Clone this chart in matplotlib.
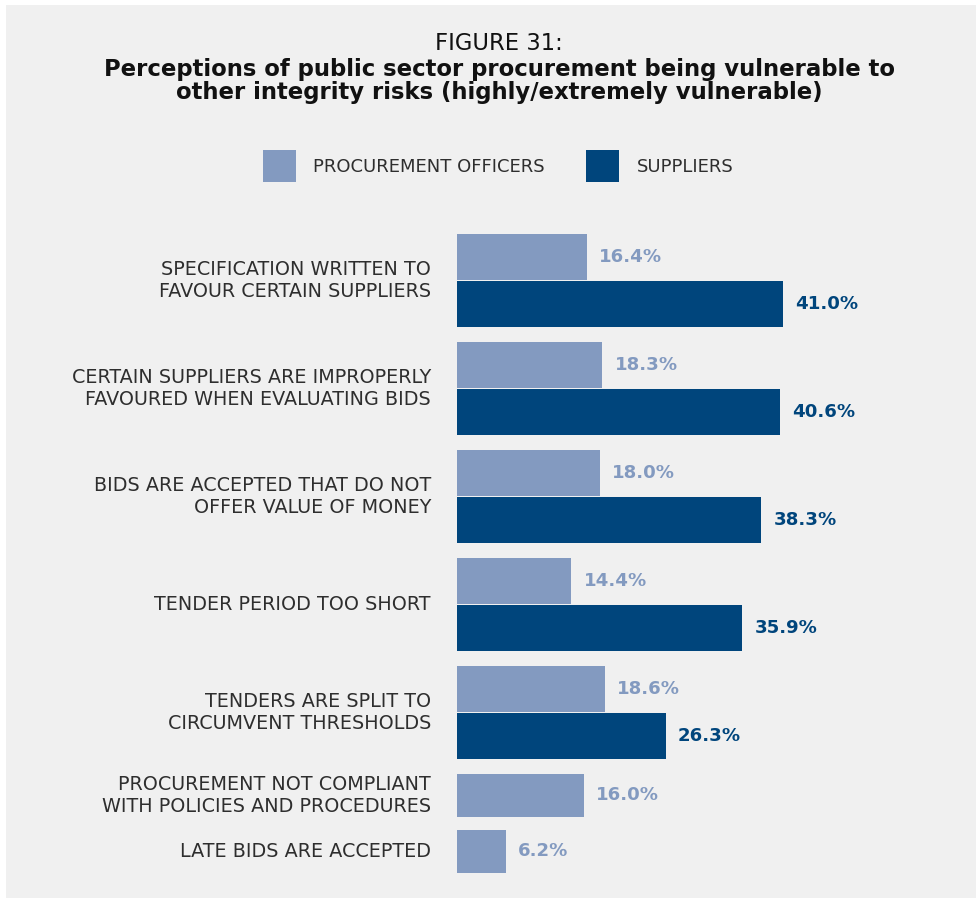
import matplotlib
matplotlib.use("Agg")
import matplotlib.pyplot as plt
from matplotlib.patches import Rectangle
from matplotlib.transforms import blended_transform_factory

# ---- data ----
categories = [
    "SPECIFICATION WRITTEN TO\nFAVOUR CERTAIN SUPPLIERS",
    "CERTAIN SUPPLIERS ARE IMPROPERLY\nFAVOURED WHEN EVALUATING BIDS",
    "BIDS ARE ACCEPTED THAT DO NOT\nOFFER VALUE OF MONEY",
    "TENDER PERIOD TOO SHORT",
    "TENDERS ARE SPLIT TO\nCIRCUMVENT THRESHOLDS",
    "PROCUREMENT NOT COMPLIANT\nWITH POLICIES AND PROCEDURES",
    "LATE BIDS ARE ACCEPTED",
]
officers = [16.4, 18.3, 18.0, 14.4, 18.6, 16.0, 6.2]
suppliers = [41.0, 40.6, 38.3, 35.9, 26.3, None, None]
series_names = ["PROCUREMENT OFFICERS", "SUPPLIERS"]

title_top = "FIGURE 31:"
title_main = ("Perceptions of public sector procurement being vulnerable to\n"
              "other integrity risks (highly/extremely vulnerable)")

# ---- style ----
FONT = "DejaVu Sans"
C_OFF = "#839ac0"
C_SUP = "#00457c"
C_TXT = "#2e2e2e"
BG = "#f0f0f0"

W, H = 976, 898
fig = plt.figure(figsize=(W / 100, H / 100), dpi=100, facecolor="white")
fig.patches.append(Rectangle((6 / W, 0), 1 - 6 / W, 1 - 5 / H,
                             transform=fig.transFigure, facecolor=BG,
                             edgecolor="none", zorder=-10))

plot_left = 457
ax = fig.add_axes([plot_left / W, 0, 1 - plot_left / W, 1])
ax.set_facecolor("none")
px_per_pct = 7.95
ax.set_xlim(0, (W - plot_left) / px_per_pct)
ax.set_ylim(H, 0)  # vertical layout in pixel rows, top to bottom
ax.axis("off")

label_tf = blended_transform_factory(fig.transFigure, ax.transData)
gap_pct = 12 / px_per_pct
VAL_SIZE = 13.1
CAT_SIZE = 13.8

row = 234
for i, cat in enumerate(categories):
    if suppliers[i] is not None:
        bh = 46
        y_off = row + bh / 2
        y_sup = row + bh + 1 + bh / 2
        center = row + bh + 0.5
        step = 108
    else:
        bh = 43
        y_off = row + bh / 2
        y_sup = None
        center = y_off
        step = 56

    ax.barh(y_off, officers[i], height=bh, color=C_OFF,
            label=series_names[0] if i == 0 else None)
    ax.text(officers[i] + gap_pct, y_off, f"{officers[i]:.1f}%",
            ha="left", va="center", color=C_OFF, fontsize=VAL_SIZE,
            fontweight="bold", family=FONT)
    if y_sup is not None:
        ax.barh(y_sup, suppliers[i], height=bh, color=C_SUP,
                label=series_names[1] if i == 0 else None)
        ax.text(suppliers[i] + gap_pct, y_sup, f"{suppliers[i]:.1f}%",
                ha="left", va="center", color=C_SUP, fontsize=VAL_SIZE,
                fontweight="bold", family=FONT)

    ax.text(431 / W, center, cat, transform=label_tf, ha="right",
            va="center", color=C_TXT, fontsize=CAT_SIZE, family=FONT,
            linespacing=1.22, clip_on=False)
    row += step

# ---- titles ----
fig.text(499 / W, 1 - 44 / H, title_top, ha="center", va="center",
         fontsize=16.3, family=FONT, color="#111111")
fig.text(499 / W, 1 - 81 / H, title_main, ha="center", va="center",
         fontsize=16.4, family=FONT, fontweight="bold", color="#111111",
         linespacing=1.05)

# ---- legend ----
handles, labels = ax.get_legend_handles_labels()
leg = fig.legend(handles, labels, loc="center",
                 bbox_to_anchor=(498 / W, 1 - 166 / H), ncol=2,
                 frameon=False, prop={"family": FONT, "size": 13.0},
                 handlelength=1.83, handleheight=2.3, handletextpad=0.95,
                 columnspacing=2.3, borderpad=0)
for t in leg.get_texts():
    t.set_color(C_TXT)

fig.savefig("out.png", dpi=100, facecolor="white")
